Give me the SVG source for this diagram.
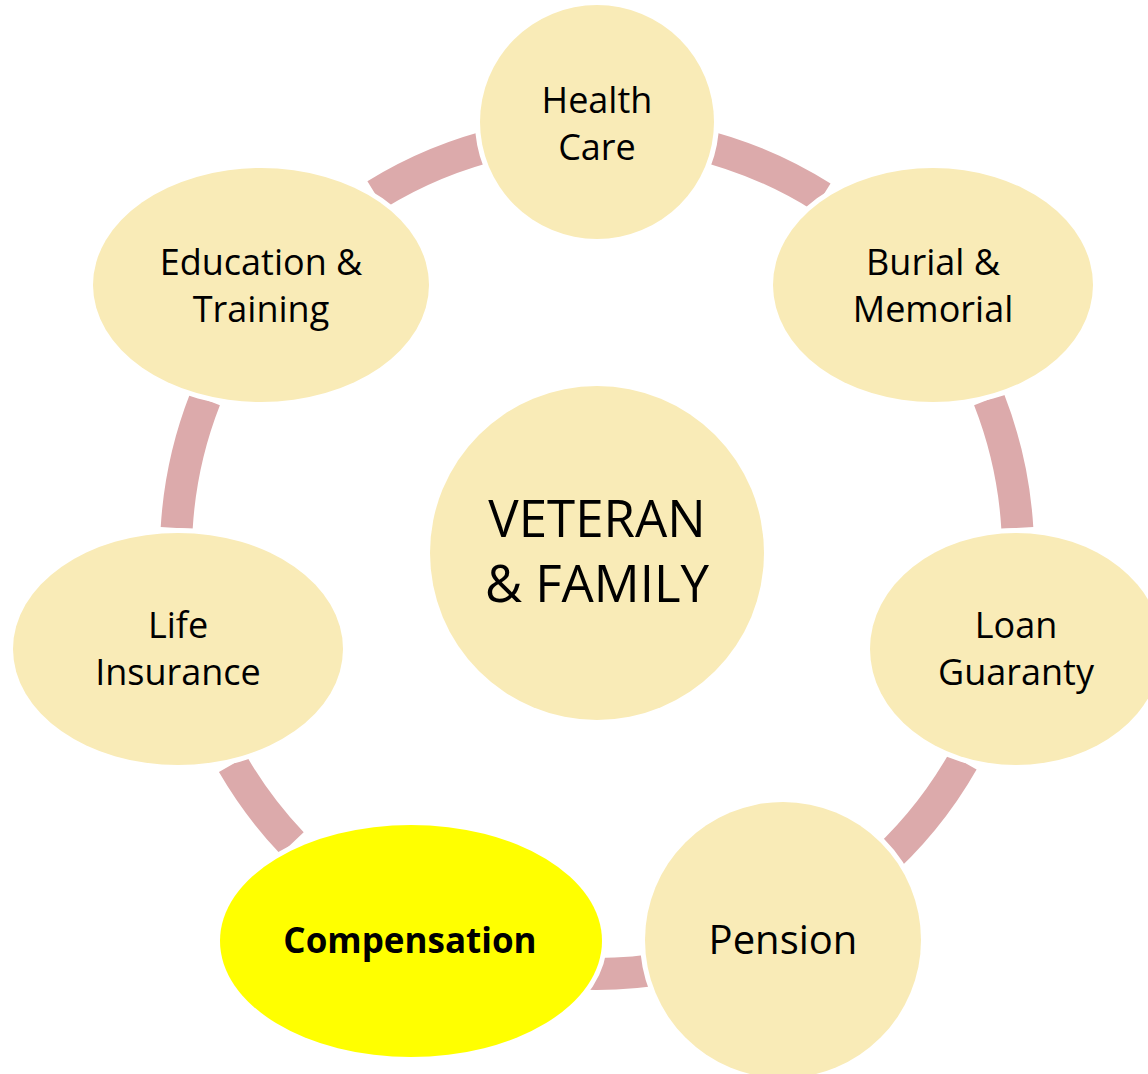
<svg xmlns="http://www.w3.org/2000/svg" width="1148" height="1074" viewBox="0 0 1148 1074">
  <style>
    .conn { fill: none; stroke: #dcaaab; stroke-width: 32; stroke-linecap: butt; }
    .node { fill: #f9ebb7; stroke: #ffffff; stroke-width: 10; paint-order: stroke; }
    .hl { fill: #ffff00; }
    .lbl { font-family: "Open Sans", "Noto Sans", sans-serif; font-size: 36px; fill: #000000; text-anchor: middle; }
    .big { font-size: 51px; }
    .mid { font-size: 40px; }
    .bold { font-weight: bold; font-size: 35px; }
  </style>
  <rect width="1148" height="1074" fill="#ffffff"/>
  <g id="connectors">
    <path class="conn" d="M 375.8 194.8 A 421 421 0 0 1 502.3 142.8"/>
    <path class="conn" d="M 691.7 142.8 A 421 421 0 0 1 822.0 197.1"/>
    <path class="conn" d="M 989.0 399.4 A 421 421 0 0 1 1017.3 528.0"/>
    <path class="conn" d="M 962.7 761.6 A 421 421 0 0 1 873.2 870.7"/>
    <path class="conn" d="M 670.1 967.6 A 421 421 0 0 1 567.6 973.0"/>
    <path class="conn" d="M 292.1 843.3 A 421 421 0 0 1 232.8 764.1"/>
    <path class="conn" d="M 176.7 528.0 A 421 421 0 0 1 205.0 399.4"/>
  </g>
  <g id="node-center">
    <circle class="node" cx="597" cy="553" r="167"/>
    <text class="lbl big" x="597" y="537">VETERAN</text>
    <text class="lbl big" x="597" y="602">&amp; FAMILY</text>
  </g>
  <g id="node-health-care">
    <circle class="node" cx="597" cy="122" r="117"/>
    <text class="lbl" x="597" y="113">Health</text>
    <text class="lbl" x="597" y="160">Care</text>
  </g>
  <g id="node-burial-memorial">
    <ellipse class="node" cx="933" cy="285" rx="160" ry="117"/>
    <text class="lbl" x="933" y="275">Burial &amp;</text>
    <text class="lbl" x="933" y="322">Memorial</text>
  </g>
  <g id="node-loan-guaranty">
    <ellipse class="node" cx="1016" cy="649" rx="146" ry="116"/>
    <text class="lbl" x="1016" y="638">Loan</text>
    <text class="lbl" x="1016" y="685">Guaranty</text>
  </g>
  <g id="node-pension">
    <circle class="node" cx="783" cy="940" r="138"/>
    <text class="lbl mid" x="783" y="954">Pension</text>
  </g>
  <g id="node-compensation">
    <ellipse class="node hl" cx="411" cy="941" rx="191" ry="116"/>
    <text class="lbl bold" x="410" y="953">Compensation</text>
  </g>
  <g id="node-life-insurance">
    <ellipse class="node" cx="178" cy="649" rx="165" ry="116"/>
    <text class="lbl" x="178" y="638">Life</text>
    <text class="lbl" x="178" y="685">Insurance</text>
  </g>
  <g id="node-education-training">
    <ellipse class="node" cx="261" cy="285" rx="168" ry="117"/>
    <text class="lbl" x="261" y="275">Education &amp;</text>
    <text class="lbl" x="261" y="322">Training</text>
  </g>
</svg>
